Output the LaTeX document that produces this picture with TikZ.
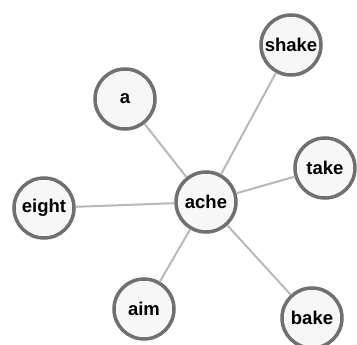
\documentclass[tikz,border=0pt]{standalone}
\usepackage{fontspec}
\setmainfont{Liberation Sans}
\begin{document}
\begin{tikzpicture}[x=1pt,y=-1pt,
  word/.style={circle, draw=ringgray, line width=3.5pt, fill=fillgray, minimum size=60pt, inner sep=0pt, font=\bfseries\fontsize{18.5}{20}\selectfont, text=black},
  link/.style={draw=linkgray, line width=2pt}]
\definecolor{ringgray}{HTML}{707070}
\definecolor{fillgray}{HTML}{F7F7F7}
\definecolor{linkgray}{HTML}{B8B8B8}
\useasboundingbox (0,0) rectangle (357,345);
\node[word] (ache) at (206,202) {ache};
\node[word] (a) at (125,99) {a};
\node[word] (shake) at (291,45) {shake};
\node[word] (take) at (325,168) {take};
\node[word] (eight) at (44,208) {eight};
\node[word] (aim) at (144,309) {aim};
\node[word] (bake) at (312,318) {bake};
\foreach \n in {a,shake,take,eight,aim,bake}{
  \path[link] (ache) -- (\n);
}
\end{tikzpicture}
\end{document}
